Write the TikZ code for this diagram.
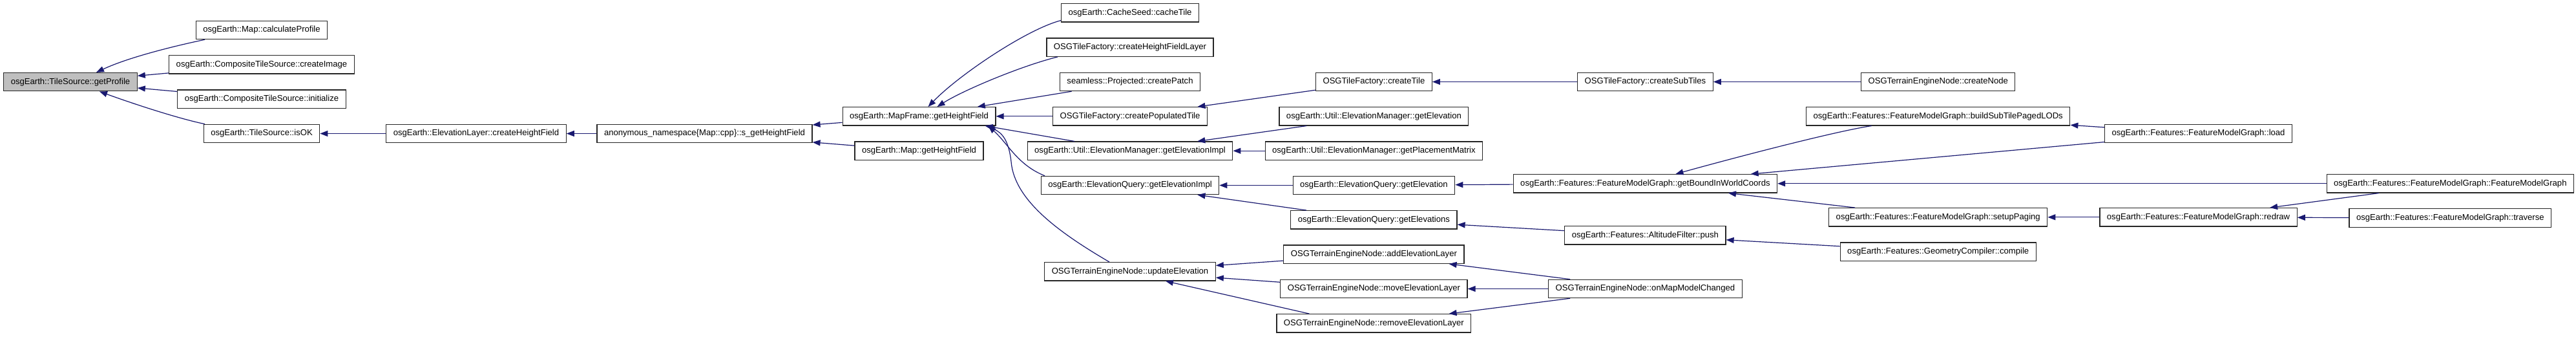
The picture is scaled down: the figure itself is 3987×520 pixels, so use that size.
\documentclass[tikz,border=0pt]{standalone}
\usepackage{fontspec}
\setmainfont{Liberation Sans}
\usepackage{tikz}
\usepackage{xcolor}
\usetikzlibrary{positioning,arrows.meta,calc}
\definecolor{edgeblue}{RGB}{25,25,112}
\definecolor{focusgray}{RGB}{191,191,191}
\begin{document}
\begin{tikzpicture}[x=1pt,y=-1pt,
  fn/.style={rectangle,draw=black!85,line width=1.2pt,fill=white,minimum height=28.3pt,
    inner xsep=11pt,inner ysep=0pt,font=\fontsize{13.1}{15}\selectfont},
  focus/.style={fn,fill=focusgray},
  call/.style={draw=edgeblue,line width=1.2pt,-{Triangle[length=12pt,width=9pt]}}]
  \useasboundingbox[fill=white] (0,0) rectangle (3987,520);
  \node[focus] (getProfile) at (109,126.7) {osgEarth::TileSource::getProfile};
  \node[fn] (calcProfile) at (405,46.5) {osgEarth::Map::calculateProfile};
  \node[fn] (createImage) at (405,99.8) {osgEarth::CompositeTileSource::createImage};
  \node[fn] (initialize) at (405,153.2) {osgEarth::CompositeTileSource::initialize};
  \node[fn] (isOK) at (405,206.5) {osgEarth::TileSource::isOK};
  \node[fn] (createHF) at (737,206.5) {osgEarth::ElevationLayer::createHeightField};
  \node[fn] (sGetHF) at (1090.5,206.5) {anonymous\_namespace\{Map::cpp\}::s\_getHeightField};
  \node[fn] (mapFrameHF) at (1422.5,179.8) {osgEarth::MapFrame::getHeightField};
  \node[fn] (mapHF) at (1422.5,233.2) {osgEarth::Map::getHeightField};
  \node[fn] (cacheTile) at (1749,19.9) {osgEarth::CacheSeed::cacheTile};
  \node[fn] (createHFLayer) at (1749,73.2) {OSGTileFactory::createHeightFieldLayer};
  \node[fn] (createPatch) at (1749,126.5) {seamless::Projected::createPatch};
  \node[fn] (createPopTile) at (1749,179.8) {OSGTileFactory::createPopulatedTile};
  \node[fn] (emElevImpl) at (1749,233.2) {osgEarth::Util::ElevationManager::getElevationImpl};
  \node[fn] (eqElevImpl) at (1749,286.5) {osgEarth::ElevationQuery::getElevationImpl};
  \node[fn] (updateElev) at (1749,419.8) {OSGTerrainEngineNode::updateElevation};
  \node[fn] (createTile) at (2126.4,126.5) {OSGTileFactory::createTile};
  \node[fn] (emElev) at (2126.4,179.8) {osgEarth::Util::ElevationManager::getElevation};
  \node[fn] (emPlacement) at (2126.4,233.2) {osgEarth::Util::ElevationManager::getPlacementMatrix};
  \node[fn] (eqElev) at (2126.4,286.5) {osgEarth::ElevationQuery::getElevation};
  \node[fn] (eqElevs) at (2126.4,339.8) {osgEarth::ElevationQuery::getElevations};
  \node[fn] (addLayer) at (2126.4,393.2) {OSGTerrainEngineNode::addElevationLayer};
  \node[fn] (moveLayer) at (2126.4,446.5) {OSGTerrainEngineNode::moveElevationLayer};
  \node[fn] (removeLayer) at (2126.4,499.8) {OSGTerrainEngineNode::removeElevationLayer};
  \node[fn] (createSubTiles) at (2546.4,126.5) {OSGTileFactory::createSubTiles};
  \node[fn] (getBound) at (2546.4,283.8) {osgEarth::Features::FeatureModelGraph::getBoundInWorldCoords};
  \node[fn] (altPush) at (2546.4,363.8) {osgEarth::Features::AltitudeFilter::push};
  \node[fn] (onMapChanged) at (2546.4,446.5) {OSGTerrainEngineNode::onMapModelChanged};
  \node[fn] (createNode) at (2999.7,126.5) {OSGTerrainEngineNode::createNode};
  \node[fn] (buildLODs) at (2999.7,179.8) {osgEarth::Features::FeatureModelGraph::buildSubTilePagedLODs};
  \node[fn] (setupPaging) at (2999.7,335.8) {osgEarth::Features::FeatureModelGraph::setupPaging};
  \node[fn] (compile) at (2999.7,389.2) {osgEarth::Features::GeometryCompiler::compile};
  \node[fn] (fmgLoad) at (3402.5,206.5) {osgEarth::Features::FeatureModelGraph::load};
  \node[fn] (fmgRedraw) at (3402.5,335.8) {osgEarth::Features::FeatureModelGraph::redraw};
  \node[fn] (fmgCtor) at (3792.3,283.8) {osgEarth::Features::FeatureModelGraph::FeatureModelGraph};
  \node[fn] (fmgTraverse) at (3792.3,337) {osgEarth::Features::FeatureModelGraph::traverse};
  % callers of getProfile
  \draw[call] ([xshift=-88pt]calcProfile.south) .. controls (275,70) and (200,88) .. ([xshift=40pt]getProfile.north);
  \draw[call] (createImage) -- (getProfile);
  \draw[call] (initialize) -- (getProfile);
  \draw[call] ([xshift=-88pt]isOK.north) .. controls (275,183) and (205,160) .. ([xshift=45pt]getProfile.south);
  \draw[call] (createHF) -- (isOK);
  \draw[call] (sGetHF) -- (createHF);
  \draw[call] (mapFrameHF) -- (sGetHF);
  \draw[call] (mapHF) -- (sGetHF);
  % callers of MapFrame::getHeightField
  \draw[call] ([yshift=3pt]cacheTile.south west) .. controls (1590,45) and (1485,115) .. ([xshift=14pt]mapFrameHF.north);
  \draw[call] ([xshift=-112pt]createHFLayer.south) .. controls (1580,102) and (1490,140) .. ([xshift=28pt]mapFrameHF.north);
  \draw[call] (createPatch) -- (mapFrameHF);
  \draw[call] (createPopTile) -- (mapFrameHF);
  \draw[call] ([xshift=-86pt]emElevImpl.north) -- ([xshift=102pt]mapFrameHF.south);
  \draw[call] ([xshift=-132pt]eqElevImpl.north) .. controls (1575,255) and (1560,222) .. ([xshift=107pt]mapFrameHF.south);
  \draw[call] ([xshift=-32pt]updateElev.north) .. controls (1640,360) and (1570,310) .. (1565,250)
    .. controls (1561,215) and (1550,205) .. ([xshift=105pt]mapFrameHF.south);
  \draw[call] (createTile) -- (createPopTile);
  \draw[call] (emElev) -- (emElevImpl);
  \draw[call] (emPlacement) -- (emElevImpl);
  \draw[call] (eqElev) -- (eqElevImpl);
  \draw[call] (eqElevs) -- (eqElevImpl);
  \draw[call] (addLayer) -- (updateElev);
  \draw[call] (moveLayer) -- (updateElev);
  \draw[call] ([xshift=-100pt]removeLayer.north) -- ([xshift=55pt]updateElev.south);
  \draw[call] (createSubTiles) -- (createTile);
  \draw[call] (createNode) -- (createSubTiles);
  \draw[call] (getBound) -- (eqElev);
  \draw[call] (altPush) -- (eqElevs);
  \draw[call] (onMapChanged) -- (addLayer);
  \draw[call] (onMapChanged) -- (moveLayer);
  \draw[call] (onMapChanged) -- (removeLayer);
  % feature model graph
  \draw[call] ([xshift=-103pt]buildLODs.south) .. controls (2840,203) and (2680,245) .. ([xshift=47pt]getBound.north);
  \draw[call] (fmgLoad) -- (getBound);
  \draw[call] (fmgCtor) -- (getBound);
  \draw[call] (setupPaging) -- (getBound);
  \draw[call] (compile) -- (altPush);
  \draw[call] (fmgLoad) -- (buildLODs);
  \draw[call] (fmgRedraw) -- (setupPaging);
  \draw[call] (fmgCtor) -- (fmgRedraw);
  \draw[call] (fmgTraverse) -- (fmgRedraw);
\end{tikzpicture}
\end{document}
